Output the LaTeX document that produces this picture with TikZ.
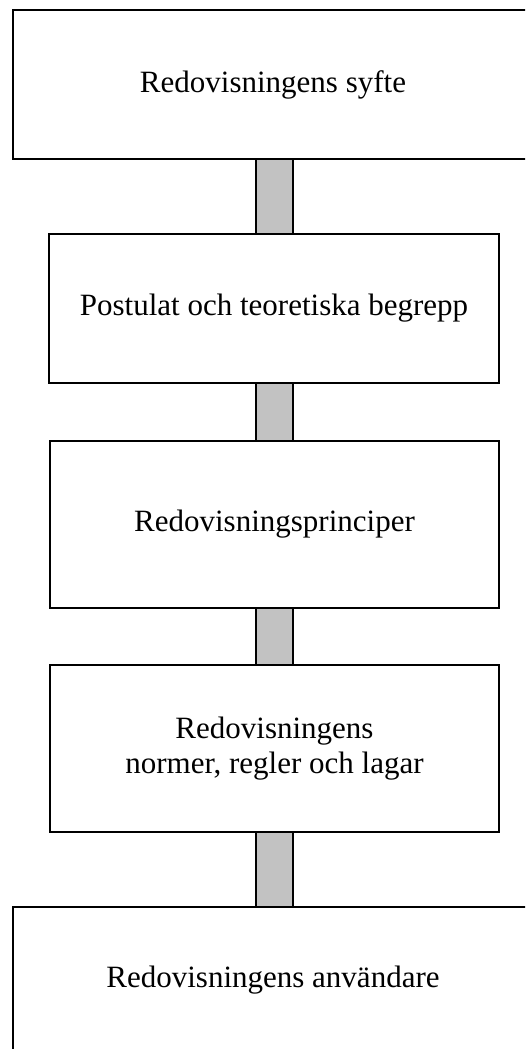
\documentclass[tikz,border=0pt]{standalone}
\usepackage{fontspec}
\setmainfont{Liberation Serif}
\begin{document}
\begin{tikzpicture}[x=1pt,y=-1pt,
  box/.style={draw=black,line width=2pt,inner sep=0pt,outer sep=0pt,align=center,
    font=\fontsize{31}{35}\selectfont},
  conn/.style={draw=black,line width=2pt,fill=black!24}]
\useasboundingbox (0,0) rectangle (525,1049);
\clip (0,0) rectangle (525,1049);
\coordinate (cx) at (274.5,0);
\node[box,minimum width=520pt,minimum height=149pt] (b1) at (273,84.5) {};
\node[box,minimum width=450pt,minimum height=149pt] (b2) at (274,308.5) {};
\node[box,minimum width=449pt,minimum height=167pt] (b3) at (274.5,524.5) {};
\node[box,minimum width=449pt,minimum height=167pt] (b4) at (274.5,748.5) {};
\node[box,minimum width=520pt,minimum height=146pt] (b5) at (273,980) {};
\draw[conn] ([xshift=-18.5pt]b1.south -| cx) rectangle ([xshift=18.5pt]b2.north -| cx);
\draw[conn] ([xshift=-18.5pt]b2.south -| cx) rectangle ([xshift=18.5pt]b3.north -| cx);
\draw[conn] ([xshift=-18.5pt]b3.south -| cx) rectangle ([xshift=18.5pt]b4.north -| cx);
\draw[conn] ([xshift=-18.5pt]b4.south -| cx) rectangle ([xshift=18.5pt]b5.north -| cx);
\node[font=\fontsize{31}{35}\selectfont] (t1) at (b1.center) {Redovisningens syfte};
\node[font=\fontsize{31}{35}\selectfont] (t2) at (b2.center) {Postulat och teoretiska begrepp};
\node[font=\fontsize{31}{35}\selectfont] (t3) at (b3.center) {Redovisningsprinciper};
\node[font=\fontsize{31}{35}\selectfont,align=center] (t4) at (b4.center) {Redovisningens\\normer, regler och lagar};
\node[font=\fontsize{31}{35}\selectfont] (t5) at (b5.center) {Redovisningens användare};
\end{tikzpicture}
\end{document}
